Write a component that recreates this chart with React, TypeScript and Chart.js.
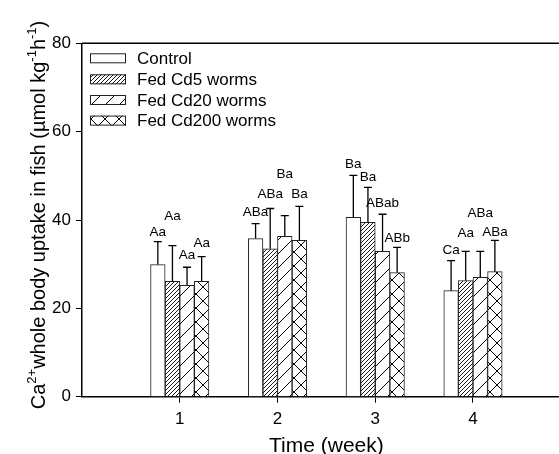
import React, { useEffect, useRef } from 'react';
import { Chart, registerables } from 'chart.js';

Chart.register(...registerables);

const FONT = "'Liberation Sans', Arial, Helvetica, sans-serif";

const weeks = [1, 2, 3, 4];
const weekTicks = ['1', '2', '3', '4'];
const yTicks = [0, 20, 40, 60, 80];
const seriesNames = ['Control', 'Fed Cd5 worms', 'Fed Cd20 worms', 'Fed Cd200 worms'];

const controlMean = [29.9, 35.8, 40.6, 24.0];
const cd5Mean = [26.1, 33.5, 39.5, 26.3];
const cd20Mean = [25.2, 36.3, 32.9, 27.0];
const cd200Mean = [26.1, 35.4, 28.1, 28.3];

const controlErr = [5.2, 3.4, 9.5, 6.8];
const cd5Err = [8.1, 9.1, 7.9, 6.6];
const cd20Err = [4.1, 4.7, 8.4, 5.9];
const cd200Err = [5.6, 7.7, 5.7, 7.1];

const controlLetters = ['Aa', 'ABa', 'Ba', 'Ca'];
const cd5Letters = ['Aa', 'ABa', 'Ba', 'Aa'];
const cd20Letters = ['Aa', 'Ba', 'ABab', 'ABa'];
const cd200Letters = ['Aa', 'Ba', 'ABb', 'ABa'];

// height (in data units) of the letter baselines
const controlLetterLevel = [36.3, 40.8, 51.7, 32.2];
const cd5LetterLevel = [39.9, 44.9, 48.8, 36.1];
const cd20LetterLevel = [31.1, 49.4, 42.9, 40.6];
const cd200LetterLevel = [33.8, 44.9, 35.1, 36.3];

const means = [controlMean, cd5Mean, cd20Mean, cd200Mean];
const errs = [controlErr, cd5Err, cd20Err, cd200Err];
const letters = [controlLetters, cd5Letters, cd20Letters, cd200Letters];
const letterLevels = [controlLetterLevel, cd5LetterLevel, cd20LetterLevel, cd200LetterLevel];

function makePattern(kind: string): CanvasPattern | string {
  if (kind === 'none') return '#ffffff';
  const size = kind === 'dense' ? 4 : 14;
  const c = document.createElement('canvas');
  c.width = size;
  c.height = size;
  const g = c.getContext('2d')!;
  g.fillStyle = '#ffffff';
  g.fillRect(0, 0, size, size);
  g.strokeStyle = '#000000';
  g.lineWidth = kind === 'dense' ? 0.9 : 1;
  g.beginPath();
  g.moveTo(-1, size + 1);
  g.lineTo(size + 1, -1);
  g.moveTo(-1, 1);
  g.lineTo(1, -1);
  g.moveTo(size - 1, size + 1);
  g.lineTo(size + 1, size - 1);
  if (kind === 'cross') {
    g.moveTo(-1, -1);
    g.lineTo(size + 1, size + 1);
    g.moveTo(size - 1, -1);
    g.lineTo(size + 1, 1);
    g.moveTo(-1, size - 1);
    g.lineTo(1, size + 1);
  }
  g.stroke();
  return g.createPattern(c, 'repeat')!;
}

const decorPlugin = {
  id: 'decor',
  afterDatasetsDraw(chart: any) {
    const ctx = chart.ctx as CanvasRenderingContext2D;
    const y = chart.scales.y;
    ctx.save();
    chart.data.datasets.forEach((_ds: any, di: number) => {
      const meta = chart.getDatasetMeta(di);
      meta.data.forEach((bar: any, i: number) => {
        const top = y.getPixelForValue(means[di][i] + errs[di][i]);
        ctx.strokeStyle = '#000';
        ctx.lineWidth = 1.3;
        ctx.beginPath();
        ctx.moveTo(bar.x, bar.y);
        ctx.lineTo(bar.x, top);
        ctx.moveTo(bar.x - 4, top);
        ctx.lineTo(bar.x + 4, top);
        ctx.stroke();
        ctx.font = `13.5px ${FONT}`;
        ctx.textAlign = 'center';
        ctx.textBaseline = 'alphabetic';
        ctx.fillStyle = '#000';
        ctx.fillText(letters[di][i], bar.x, y.getPixelForValue(letterLevels[di][i]));
      });
    });
    ctx.restore();
  },
  afterDraw(chart: any) {
    const ctx = chart.ctx as CanvasRenderingContext2D;
    const area = chart.chartArea;
    const x = chart.scales.x;
    ctx.save();
    ctx.strokeStyle = '#000';
    ctx.lineWidth = 1.5;
    ctx.beginPath();
    ctx.moveTo(area.left, area.top);
    ctx.lineTo(area.right, area.top);
    ctx.stroke();

    ctx.fillStyle = '#000';
    ctx.font = `21px ${FONT}`;
    ctx.textAlign = 'center';
    ctx.textBaseline = 'alphabetic';
    ctx.fillText('Time (week)', x.getPixelForValue(2.5), 452);

    const segs = [
      { t: 'Ca', sup: false },
      { t: '2+', sup: true },
      { t: 'whole body uptake in fish (\u00b5mol kg', sup: false },
      { t: '-1', sup: true },
      { t: 'h', sup: false },
      { t: '-1', sup: true },
      { t: ')', sup: false },
    ];
    const mainFont = `20px ${FONT}`;
    const supFont = `13px ${FONT}`;
    let total = 0;
    segs.forEach((s) => {
      ctx.font = s.sup ? supFont : mainFont;
      total += ctx.measureText(s.t).width;
    });
    ctx.translate(45, 215);
    ctx.rotate(-Math.PI / 2);
    ctx.textAlign = 'left';
    let pos = -total / 2;
    segs.forEach((s) => {
      ctx.font = s.sup ? supFont : mainFont;
      ctx.fillText(s.t, pos, s.sup ? -9 : 0);
      pos += ctx.measureText(s.t).width;
    });
    ctx.setTransform(1, 0, 0, 1, 0, 0);

    const rowY = [58.3, 79.3, 100, 120.6];
    chart.data.datasets.forEach((ds: any, di: number) => {
      const cy = rowY[di];
      ctx.fillStyle = ds.backgroundColor;
      ctx.fillRect(90, cy - 5, 36, 10);
      ctx.strokeStyle = '#222';
      ctx.lineWidth = 1;
      ctx.strokeRect(90.5, cy - 4.5, 35, 9);
      ctx.fillStyle = '#000';
      ctx.font = `17px ${FONT}`;
      ctx.textAlign = 'left';
      ctx.textBaseline = 'middle';
      ctx.fillText(ds.label, 137, cy + 1);
    });
    ctx.restore();
  },
};

export default function App() {
  const ref = useRef<HTMLCanvasElement | null>(null);
  useEffect(() => {
    if (!ref.current) return;
    const kinds = ['none', 'dense', 'sparse', 'cross'];
    const chart = new Chart(ref.current, {
      type: 'bar',
      data: {
        datasets: seriesNames.map((name, di) => ({
          label: name,
          data: weeks.map((w, i) => ({ x: w, y: means[di][i] })),
          backgroundColor: makePattern(kinds[di]) as any,
          borderColor: '#222',
          borderWidth: 1,
          barThickness: 14.6,
        })),
      },
      options: {
        responsive: false,
        animation: false,
        devicePixelRatio: 1,
        layout: { padding: { top: 43.3, right: 0, left: 0, bottom: 0 } },
        plugins: { legend: { display: false }, tooltip: { enabled: false } },
        scales: {
          x: {
            type: 'linear',
            min: 0,
            max: 4.88,
            offset: false,
            afterFit: (s: any) => {
              s.height = 57.3;
            },
            afterBuildTicks: (s: any) => {
              s.ticks = weeks.map((v) => ({ value: v }));
            },
            ticks: {
              callback: (v: any) => weekTicks[weeks.indexOf(Number(v))] ?? '',
              font: { family: FONT, size: 17 },
              color: '#000',
              padding: 6,
              maxRotation: 0,
              autoSkip: false,
            },
            grid: { drawOnChartArea: false, tickLength: 6, color: '#000', offset: false },
            border: { color: '#000', width: 1.5 },
          },
          y: {
            min: 0,
            max: 80,
            afterFit: (s: any) => {
              s.width = 82;
            },
            afterBuildTicks: (s: any) => {
              s.ticks = yTicks.map((v) => ({ value: v }));
            },
            ticks: {
              font: { family: FONT, size: 17 },
              color: '#000',
              padding: 5,
            },
            grid: { drawOnChartArea: false, tickLength: 6, color: '#000' },
            border: { color: '#000', width: 1.5 },
          },
        },
      },
      plugins: [decorPlugin],
    });
    return () => chart.destroy();
  }, []);
  return (
    <div style={{ position: 'absolute', left: 0, top: 0, width: 559, height: 454, background: '#fff' }}>
      <canvas ref={ref} width={559} height={454} style={{ display: 'block' }} />
    </div>
  );
}
